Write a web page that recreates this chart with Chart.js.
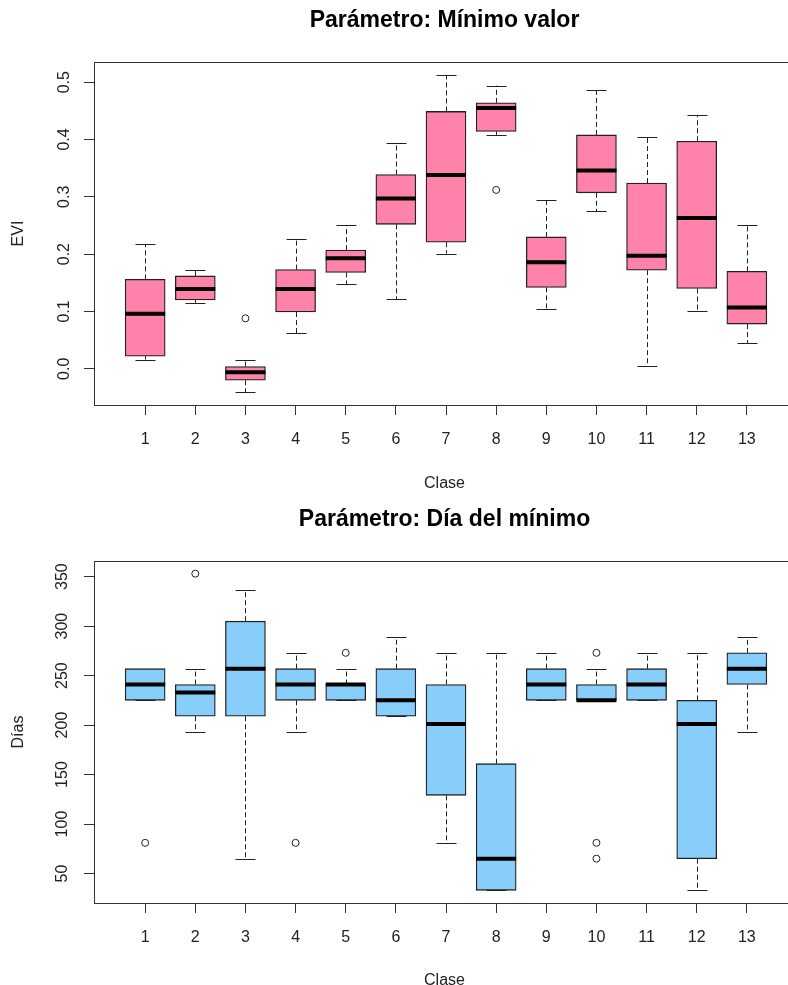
<!DOCTYPE html>
<html lang="es">
<head>
<meta charset="utf-8">
<title>Parámetros por clase</title>
<script src="https://cdn.jsdelivr.net/npm/chart.js@4.4.1/dist/chart.umd.min.js"></script>
<style>
  html, body { margin: 0; padding: 0; background: #fff; overflow: hidden; }
  canvas { display: block; }
</style>
</head>
<body>
<canvas id="chartEvi" width="800" height="492"></canvas>
<canvas id="chartDia" width="800" height="493"></canvas>
<script>
// Categories (x axis)
const classes = ['1', '2', '3', '4', '5', '6', '7', '8', '9', '10', '11', '12', '13'];

// Panel 1: EVI minimum value - five-number summaries per class
const eviLow    = [0.016, 0.115, -0.041, 0.062, 0.148, 0.121, 0.201, 0.408, 0.104, 0.275, 0.004, 0.100, 0.045];
const eviQ1     = [0.022, 0.120, -0.020, 0.099, 0.168, 0.252, 0.221, 0.414, 0.142, 0.307, 0.172, 0.140, 0.078];
const eviMedian = [0.096, 0.139, -0.006, 0.139, 0.193, 0.297, 0.338, 0.455, 0.186, 0.346, 0.197, 0.263, 0.107];
const eviQ3     = [0.156, 0.162, 0.004, 0.173, 0.207, 0.339, 0.449, 0.464, 0.230, 0.408, 0.324, 0.397, 0.170];
const eviHigh   = [0.217, 0.172, 0.016, 0.227, 0.251, 0.394, 0.513, 0.494, 0.294, 0.487, 0.404, 0.443, 0.251];
const eviOutClass = [3, 8];
const eviOutValue = [0.088, 0.312];
const eviTicks = [0.0, 0.1, 0.2, 0.3, 0.4, 0.5];

// Panel 2: day of the minimum
const diaLow    = [225, 193, 65, 193, 225, 209, 81, 33, 225, 225, 225, 33, 193];
const diaQ1     = [225, 209, 209, 225, 225, 209, 129, 33, 225, 225, 225, 65, 241];
const diaMedian = [241, 233, 257, 241, 241, 225, 201, 65, 241, 225, 241, 201, 257];
const diaQ3     = [257, 241, 305, 257, 241, 257, 241, 161, 257, 241, 257, 225, 273];
const diaHigh   = [257, 257, 337, 273, 257, 289, 273, 273, 273, 257, 273, 273, 289];
const diaOutClass = [1, 2, 4, 5, 10, 10, 10];
const diaOutValue = [81, 353, 81, 273, 273, 81, 65];
const diaTicks = [50, 100, 150, 200, 250, 300, 350];

Chart.defaults.font.family = '"Liberation Sans", Arial, sans-serif';
Chart.defaults.font.size = 16;
Chart.defaults.color = '#222';

/**
 * R-style boxplot extras: whiskers, medians, frame and texts
 */
function boxplotPlugin(stats, texts) {
  return {
    id: 'rBoxplot',
    beforeDatasetsDraw(chart) {
      const {ctx, scales: {x, y}} = chart;
      const boxes = chart.getDatasetMeta(0).data;
      ctx.save();
      ctx.strokeStyle = '#222';
      ctx.lineWidth = 1;
      stats.median.forEach(function(m, i) {
        const px = Math.round(x.getPixelForValue(i + 1)) + 0.5;
        const half = boxes[i].width / 4;
        // dashed whiskers
        ctx.setLineDash([5, 3]);
        ctx.beginPath();
        ctx.moveTo(px, y.getPixelForValue(stats.q3[i]));
        ctx.lineTo(px, y.getPixelForValue(stats.high[i]));
        ctx.moveTo(px, y.getPixelForValue(stats.q1[i]));
        ctx.lineTo(px, y.getPixelForValue(stats.low[i]));
        ctx.stroke();
        // staples
        ctx.setLineDash([]);
        ctx.beginPath();
        [stats.high[i], stats.low[i]].forEach(function(v) {
          const py = Math.round(y.getPixelForValue(v)) + 0.5;
          ctx.moveTo(px - half, py);
          ctx.lineTo(px + half, py);
        });
        ctx.stroke();
      });
      ctx.restore();
    },
    afterDatasetsDraw(chart) {
      const {ctx, scales: {y}} = chart;
      const boxes = chart.getDatasetMeta(0).data;
      ctx.save();
      ctx.strokeStyle = '#000';
      ctx.lineWidth = 4;
      stats.median.forEach(function(m, i) {
        const b = boxes[i];
        const py = y.getPixelForValue(m);
        ctx.beginPath();
        ctx.moveTo(b.x - b.width / 2, py);
        ctx.lineTo(b.x + b.width / 2, py);
        ctx.stroke();
      });
      ctx.restore();
    },
    afterDraw(chart) {
      const {ctx, chartArea: a} = chart;
      const cx = (a.left + a.right) / 2;
      ctx.save();
      ctx.strokeStyle = '#333';
      ctx.lineWidth = 1;
      ctx.strokeRect(a.left + 0.5, a.top + 0.5, a.right - a.left, a.bottom - a.top);

      ctx.fillStyle = '#000';
      ctx.textAlign = 'center';
      ctx.textBaseline = 'middle';
      ctx.font = 'bold 23px "Liberation Sans", Arial, sans-serif';
      ctx.fillText(texts.title, cx, texts.titleY);

      ctx.fillStyle = '#222';
      ctx.font = '16px "Liberation Sans", Arial, sans-serif';
      ctx.fillText(texts.xTitle, cx, texts.xTitleY);

      ctx.translate(19, (a.top + a.bottom) / 2);
      ctx.rotate(-Math.PI / 2);
      ctx.fillText(texts.yTitle, 0, 0);
      ctx.restore();
    }
  };
}

function renderBoxChart(canvasId, opts) {
  const canvas = document.getElementById(canvasId);
  const ctx = canvas.getContext('2d');

  const boxData = classes.map(function(c, i) {
    return {x: i + 1, y: [opts.q1[i], opts.q3[i]]};
  });
  const outData = opts.outClass.map(function(c, i) {
    return {x: c, y: opts.outValue[i]};
  });

  return new Chart(ctx, {
    type: 'bar',
    data: {
      datasets: [{
        type: 'bar',
        data: boxData,
        backgroundColor: opts.fill,
        borderColor: '#222',
        borderWidth: 1.3,
        borderSkipped: false,
        barThickness: 40
      }, {
        type: 'scatter',
        data: outData,
        pointStyle: 'circle',
        pointRadius: 3.5,
        backgroundColor: 'rgba(255,255,255,0)',
        borderColor: '#222',
        borderWidth: 1
      }]
    },
    options: {
      responsive: false,
      animation: false,
      layout: {
        padding: {left: 0, right: 4, top: opts.plotTop, bottom: 0}
      },
      plugins: {
        legend: {display: false},
        tooltip: {enabled: false}
      },
      scales: {
        x: {
          type: 'linear',
          position: 'bottom',
          min: -0.02,
          max: 13.96,
          offset: false,
          grid: {drawOnChartArea: false, offset: false, tickLength: 10, color: '#333'},
          border: {display: false},
          ticks: {
            padding: 15,
            maxRotation: 0,
            autoSkip: false,
            callback: function(v) { return classes[v - 1]; }
          },
          afterBuildTicks: function(scale) {
            scale.ticks = classes.map(function(c, i) { return {value: i + 1}; });
          },
          afterFit: function(scale) {
            scale.height = opts.xAxisHeight;
          }
        },
        y: {
          type: 'linear',
          min: opts.yMin,
          max: opts.yMax,
          grid: {drawOnChartArea: false, tickLength: 10, color: '#333'},
          border: {display: false},
          ticks: {
            padding: 8,
            minRotation: 90,
            maxRotation: 90,
            crossAlign: 'center',
            autoSkip: false,
            callback: function(v) { return opts.tickFormat(v); }
          },
          afterBuildTicks: function(scale) {
            scale.ticks = opts.yTicks.map(function(v) { return {value: v}; });
          },
          afterFit: function(scale) {
            scale.width = 94;
          }
        }
      }
    },
    plugins: [boxplotPlugin(
      {low: opts.low, q1: opts.q1, median: opts.median, q3: opts.q3, high: opts.high},
      {title: opts.title, titleY: opts.titleY, xTitle: 'Clase', xTitleY: opts.xTitleY, yTitle: opts.yTitle}
    )]
  });
}

renderBoxChart('chartEvi', {
  low: eviLow, q1: eviQ1, median: eviMedian, q3: eviQ3, high: eviHigh,
  outClass: eviOutClass, outValue: eviOutValue,
  yTicks: eviTicks, yMin: -0.0632, yMax: 0.5352,
  tickFormat: function(v) { return v.toFixed(1); },
  fill: '#FF82AB',
  title: 'Parámetro: Mínimo valor', titleY: 21,
  yTitle: 'EVI', xTitleY: 484,
  plotTop: 62, xAxisHeight: 87
});

renderBoxChart('chartDia', {
  low: diaLow, q1: diaQ1, median: diaMedian, q3: diaQ3, high: diaHigh,
  outClass: diaOutClass, outValue: diaOutValue,
  yTicks: diaTicks, yMin: 20.2, yMax: 365.8,
  tickFormat: function(v) { return String(v); },
  fill: '#87CEFA',
  title: 'Parámetro: Día del mínimo', titleY: 28,
  yTitle: 'Días', xTitleY: 489,
  plotTop: 69, xAxisHeight: 82
});
</script>
</body>
</html>
